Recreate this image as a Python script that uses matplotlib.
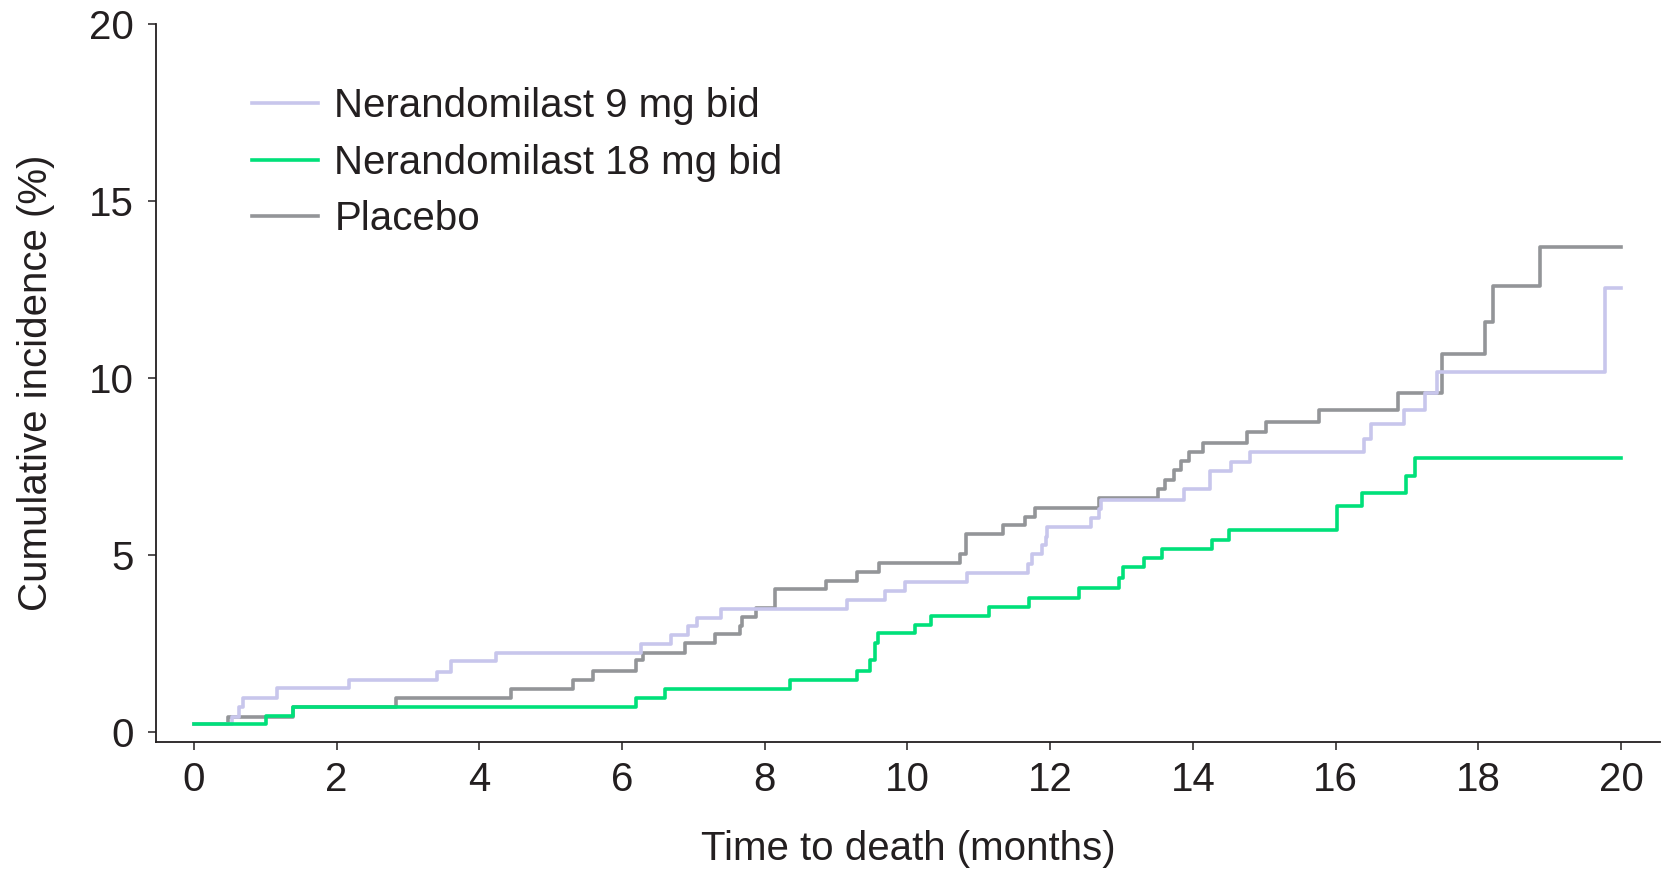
import matplotlib
matplotlib.use("Agg")
import matplotlib.pyplot as plt

plt.rcParams['font.family'] = ['Liberation Sans', 'DejaVu Sans']

# step data (months, cumulative incidence %)
t_9mg = [0, 0.53, 0.64, 0.69, 1.16, 2.18, 3.41, 3.61, 4.24, 6.26, 6.69, 6.92, 7.05, 7.39,
         9.16, 9.68, 9.97, 10.83, 11.69, 11.74, 11.89, 11.94, 11.96, 12.57, 12.69, 12.71,
         13.88, 14.24, 14.53, 14.80, 16.40, 16.49, 16.96, 17.25, 17.42, 19.78, 20.0]
y_9mg = [0.22, 0.44, 0.72, 0.97, 1.24, 1.47, 1.71, 2.01, 2.25, 2.49, 2.75, 3.01, 3.24, 3.48,
         3.74, 4.00, 4.25, 4.51, 4.75, 5.03, 5.29, 5.52, 5.79, 6.04, 6.30, 6.56,
         6.86, 7.38, 7.64, 7.91, 8.30, 8.71, 9.10, 9.58, 10.19, 12.56, 12.56]

t_18mg = [0, 1.01, 1.39, 6.20, 6.60, 8.36, 9.29, 9.48, 9.55, 9.59, 10.10, 10.33, 11.15, 11.71,
          12.40, 12.96, 13.02, 13.32, 13.57, 14.27, 14.50, 16.02, 16.37, 16.99, 17.12, 20.0]
y_18mg = [0.22, 0.47, 0.72, 0.97, 1.21, 1.49, 1.74, 2.04, 2.51, 2.79, 3.03, 3.29, 3.55, 3.80,
          4.07, 4.35, 4.68, 4.91, 5.18, 5.43, 5.71, 6.39, 6.75, 7.25, 7.76, 7.76]

t_pbo = [0, 0.48, 1.39, 2.84, 4.45, 5.31, 5.59, 6.20, 6.29, 6.88, 7.31, 7.65, 7.68, 7.88, 8.14,
         8.86, 9.29, 9.60, 10.73, 10.82, 11.34, 11.65, 11.79, 12.68, 13.51, 13.61, 13.74,
         13.83, 13.95, 14.14, 14.76, 15.03, 15.77, 16.87, 17.49, 18.10, 18.21, 18.86, 20.0]
y_pbo = [0.22, 0.44, 0.72, 0.96, 1.22, 1.47, 1.73, 2.04, 2.23, 2.51, 2.77, 3.01, 3.25, 3.52, 4.04,
         4.27, 4.54, 4.79, 5.05, 5.59, 5.85, 6.09, 6.35, 6.61, 6.86, 7.13, 7.41,
         7.66, 7.93, 8.18, 8.49, 8.77, 9.10, 9.58, 10.68, 11.60, 12.62, 13.72, 13.72]

labels = ['Nerandomilast 9 mg bid', 'Nerandomilast 18 mg bid', 'Placebo']
TXT = '#231f20'

fig = plt.figure(figsize=(16.64, 8.73), dpi=100)
ax = fig.add_axes([0.09375, 0.1503, 0.904, 0.8217])

l_pbo, = ax.step(t_pbo, y_pbo, where='post', color='#939598', lw=2.6, zorder=2)
l_9, = ax.step(t_9mg, y_9mg, where='post', color='#c8c6ec', lw=2.6, zorder=3)
l_18, = ax.step(t_18mg, y_18mg, where='post', color='#00e07a', lw=2.6, zorder=4)

ax.set_xlim(-0.53, 20.55)
ax.set_ylim(-0.27, 20)
ax.set_xticks(range(0, 21, 2))
ax.set_yticks([0, 5, 10, 15, 20])

for s in ['top', 'right']:
    ax.spines[s].set_visible(False)
ax.spines['left'].set_bounds(-0.27, 20)
for s in ['left', 'bottom']:
    ax.spines[s].set_color(TXT)
    ax.spines[s].set_linewidth(1.3)
ax.tick_params(direction='out', length=6, width=1.1, colors=TXT, labelsize=29, pad=8)
ax.tick_params(axis='y', pad=10)

ax.set_xlabel('Time to death (months)', fontsize=29, color=TXT, labelpad=22)
ax.set_ylabel('Cumulative incidence (%)', fontsize=29, color=TXT, labelpad=24)

leg = ax.legend([l_9, l_18, l_pbo], labels, loc='upper left', bbox_to_anchor=(0.1515, 0.9),
                bbox_transform=fig.transFigure, frameon=False, fontsize=29,
                handlelength=1.63, handletextpad=0.41, labelspacing=0.46,
                borderpad=0, borderaxespad=0)
for t in leg.get_texts():
    t.set_color(TXT)

fig.savefig('out.png', dpi=100)
